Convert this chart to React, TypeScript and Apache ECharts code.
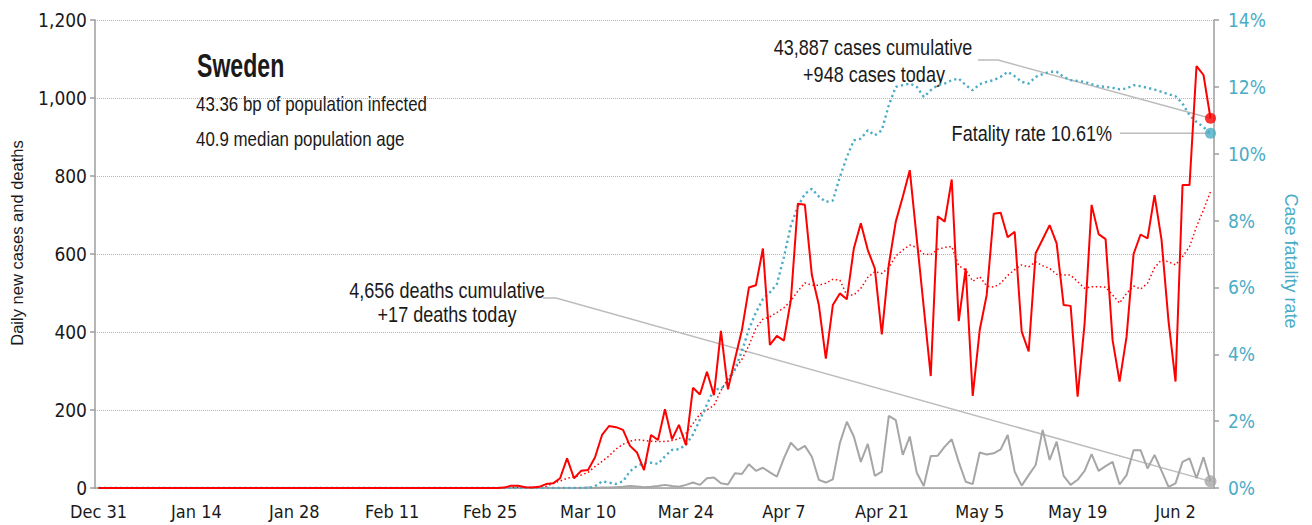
import React, { useEffect, useRef } from "react";
import * as echarts from "echarts";

const AXIS_FONT = "'DejaVu Sans Condensed', 'Liberation Sans', sans-serif";
const NAME_FONT = "'Liberation Sans', 'DejaVu Sans Condensed', sans-serif";
const TEXT_FONT = "'Liberation Sans', 'DejaVu Sans', sans-serif";
const RED = "#ff0000";
const BLUE = "#4aacc6";
const GREY = "#a6a6a6";
const INK = "#1a1a1a";
const CONNECT = "#bcbcbc";

const MONTHS = ["Jan", "Feb", "Mar", "Apr", "May", "Jun", "Jul", "Aug", "Sep", "Oct", "Nov", "Dec"];
const START_UTC = Date.UTC(2019, 11, 31);
const DAY_COUNT = 160;
const dates: string[] = [];
for (let i = 0; i < DAY_COUNT; i++) {
  const d = new Date(START_UTC + i * 86400000);
  dates.push(`${MONTHS[d.getUTCMonth()]} ${d.getUTCDate()}`);
}

const tickLabels = ["Dec 31", "Jan 14", "Jan 28", "Feb 11", "Feb 25", "Mar 10", "Mar 24", "Apr 7", "Apr 21", "May 5", "May 19", "Jun 2"];

// one row = 10 days, starting Dec 31
const dailyCases = [
  0, 0, 0, 0, 0, 0, 0, 0, 0, 0,
  0, 0, 0, 0, 0, 0, 0, 0, 0, 0,
  0, 0, 0, 0, 0, 0, 0, 0, 0, 0,
  0, 0, 0, 0, 0, 0, 0, 0, 0, 0,
  0, 0, 0, 0, 0, 0, 0, 0, 0, 0,
  0, 0, 0, 0, 0, 0, 0, 0, 1, 6,
  6, 2, 1, 3, 10, 12, 25, 76, 25, 44,
  46, 79, 136, 159, 156, 149, 108, 91, 46, 136,
  123, 202, 125, 162, 110, 257, 240, 298, 238, 403,
  253, 330, 405, 514, 520, 614, 367, 390, 378, 482,
  729, 726, 546, 469, 332, 469, 499, 484, 614, 679,
  610, 563, 394, 572, 683, 747, 815, 639, 463, 287,
  697, 683, 791, 428, 563, 236, 405, 495, 703, 706,
  643, 657, 401, 350, 602, 638, 674, 627, 469, 467,
  234, 422, 726, 651, 638, 379, 273, 388, 600, 650,
  640, 751, 636, 427, 273, 777, 777, 1082, 1059, 948,
];

const casesAvg = [
  0, 0, 0, 0, 0, 0, 0, 0, 0, 0,
  0, 0, 0, 0, 0, 0, 0, 0, 0, 0,
  0, 0, 0, 0, 0, 0, 0, 0, 0, 0,
  0, 0, 0, 0, 0, 0, 0, 0, 0, 0,
  0, 0, 0, 0, 0, 0, 0, 0, 0, 0,
  0, 0, 0, 0, 0, 0, 0, 0, 1, 1,
  2, 2, 2, 2, 4, 12, 18, 25, 28, 33,
  40, 55, 68, 82, 100, 112, 120, 124, 122, 120,
  119, 119, 122, 126, 140, 165, 190, 200, 212, 250,
  280, 305, 330, 365, 410, 433, 439, 450, 462, 480,
  505, 526, 520, 520, 525, 535, 533, 495, 495, 512,
  540, 555, 550, 565, 595, 610, 623, 617, 600, 598,
  612, 617, 619, 570, 559, 530, 542, 518, 515, 525,
  545, 560, 572, 567, 580, 570, 563, 548, 546, 546,
  529, 512, 516, 516, 515, 495, 474, 499, 518, 510,
  525, 565, 585, 580, 572, 593, 619, 670, 713, 760,
];

const dailyDeaths = [
  0, 0, 0, 0, 0, 0, 0, 0, 0, 0,
  0, 0, 0, 0, 0, 0, 0, 0, 0, 0,
  0, 0, 0, 0, 0, 0, 0, 0, 0, 0,
  0, 0, 0, 0, 0, 0, 0, 0, 0, 0,
  0, 0, 0, 0, 0, 0, 0, 0, 0, 0,
  0, 0, 0, 0, 0, 0, 0, 0, 0, 0,
  0, 0, 0, 0, 0, 0, 0, 0, 0, 0,
  1, 0, 1, 1, 2, 3, 5, 4, 2, 3,
  5, 8, 5, 3, 8, 14, 8, 25, 27, 12,
  9, 38, 36, 61, 44, 52, 40, 29, 76, 116,
  97, 108, 80, 21, 14, 22, 115, 170, 132, 67,
  113, 31, 42, 185, 174, 85, 132, 39, 5, 82,
  83, 106, 125, 67, 16, 10, 91, 86, 89, 99,
  136, 42, 6, 33, 59, 149, 72, 119, 31, 8,
  21, 44, 87, 44, 56, 67, 9, 33, 97, 97,
  50, 85, 44, 3, 12, 67, 76, 25, 79, 17,
];

// case fatality rate, percent
const fatalityRate = [
  0, 0, 0, 0, 0, 0, 0, 0, 0, 0,
  0, 0, 0, 0, 0, 0, 0, 0, 0, 0,
  0, 0, 0, 0, 0, 0, 0, 0, 0, 0,
  0, 0, 0, 0, 0, 0, 0, 0, 0, 0,
  0, 0, 0, 0, 0, 0, 0, 0, 0, 0,
  0, 0, 0, 0, 0, 0, 0, 0, 0, 0,
  0, 0, 0, 0, 0, 0, 0, 0, 0, 0,
  0, 0.05, 0.2, 0.16, 0.12, 0.2, 0.5, 0.66, 0.74, 0.76,
  0.72, 0.95, 1.14, 1.16, 1.3, 1.6, 2.05, 2.5, 2.95, 2.97,
  3.15, 3.55, 4.1, 4.75, 5.25, 5.65, 5.85, 6.1, 6.9, 7.85,
  8.42, 8.8, 8.95, 8.72, 8.56, 8.6, 9.3, 9.9, 10.4, 10.45,
  10.7, 10.55, 10.7, 11.45, 12.0, 12.05, 12.1, 12.0, 11.7, 11.9,
  12.05, 12.1, 12.2, 12.25, 12.05, 11.9, 12.08, 12.15, 12.2, 12.3,
  12.45, 12.32, 12.15, 12.1, 12.3, 12.38, 12.45, 12.45, 12.3, 12.2,
  12.18, 12.15, 12.08, 12.02, 12.0, 11.97, 11.93, 11.95, 12.05, 12.02,
  11.97, 11.92, 11.85, 11.78, 11.72, 11.5, 11.15, 10.95, 10.8, 10.61,
];

const country = "Sweden";
const infectedBp = "43.36";
const medianAge = "40.9";
const totalCases = 43887;
const totalDeaths = 4656;

const fmt = (n: number) => n.toLocaleString("en-US");
const showTick = (_idx: number, value: string) => tickLabels.includes(value);

export default function App() {
  const ref = useRef<HTMLDivElement>(null);

  useEffect(() => {
    document.body.style.margin = "0";
    if (!ref.current) return;
    const chart = echarts.init(ref.current, null, { renderer: "svg" });
    const last = DAY_COUNT - 1;
    const lastDate = dates[last];
    const axisLineStyle = { color: "#9e9e9e", width: 1.5 };

    chart.setOption({
      animation: false,
      textStyle: { fontFamily: AXIS_FONT },
      grid: { left: 95, right: 98, top: 20, bottom: 37, containLabel: false },
      xAxis: {
        type: "category",
        data: dates,
        boundaryGap: true,
        axisLine: { lineStyle: axisLineStyle },
        axisTick: { interval: showTick, length: 6, lineStyle: axisLineStyle },
        axisLabel: { interval: showTick, fontSize: 18, color: INK, margin: 14, fontFamily: AXIS_FONT },
        splitLine: { show: false },
      },
      yAxis: [
        {
          type: "value",
          min: 0,
          max: 1200,
          interval: 200,
          name: "Daily new cases and deaths",
          nameLocation: "middle",
          nameGap: 70,
          nameTextStyle: { fontSize: 16.5, color: INK, fontFamily: NAME_FONT, padding: [0, 0, 0, 22] },
          axisLine: { show: true, lineStyle: axisLineStyle },
          axisTick: { show: true, length: 5, lineStyle: axisLineStyle },
          axisLabel: { formatter: (v: number) => fmt(v), fontSize: 19, color: INK, margin: 8, fontFamily: AXIS_FONT },
          splitLine: { show: true, lineStyle: { type: "dotted", color: "#b5b5b5", width: 1 } },
        },
        {
          type: "value",
          min: 0,
          max: 14,
          interval: 2,
          position: "right",
          name: "Case fatality rate",
          nameLocation: "middle",
          nameRotate: -90,
          nameGap: 68,
          nameTextStyle: { fontSize: 18, color: BLUE, fontFamily: NAME_FONT, padding: [0, 0, 0, 14] },
          axisLine: { show: true, lineStyle: axisLineStyle },
          axisTick: { show: true, length: 5, lineStyle: axisLineStyle },
          axisLabel: { formatter: "{value}%", fontSize: 19, color: BLUE, margin: 14, fontFamily: AXIS_FONT },
          splitLine: { show: false },
        },
      ],
      series: [
        {
          name: "Daily deaths",
          type: "line",
          data: dailyDeaths,
          showSymbol: false,
          lineStyle: { color: GREY, width: 2 },
          itemStyle: { color: GREY },
          z: 2,
        },
        {
          name: "Cases, 7-day average",
          type: "line",
          data: casesAvg,
          showSymbol: false,
          lineStyle: { color: RED, width: 1.5, type: [1.5, 2.6] },
          itemStyle: { color: RED },
          z: 3,
        },
        {
          name: "Case fatality rate",
          type: "line",
          yAxisIndex: 1,
          data: fatalityRate,
          showSymbol: false,
          lineStyle: { color: BLUE, width: 2.4, type: [2.2, 3.2] },
          itemStyle: { color: BLUE },
          z: 3,
        },
        {
          name: "Daily cases",
          type: "line",
          data: dailyCases,
          showSymbol: false,
          lineStyle: { color: RED, width: 2 },
          itemStyle: { color: RED },
          z: 4,
        },
        {
          type: "scatter",
          data: [[lastDate, dailyCases[last]]],
          symbolSize: 11,
          itemStyle: { color: RED },
          z: 6,
        },
        {
          type: "scatter",
          data: [[lastDate, dailyDeaths[last]]],
          symbolSize: 12,
          itemStyle: { color: GREY },
          z: 6,
        },
        {
          type: "scatter",
          yAxisIndex: 1,
          data: [[lastDate, fatalityRate[last]]],
          symbolSize: 11,
          itemStyle: { color: BLUE },
          z: 6,
        },
      ],
    });

    const pCase = chart.convertToPixel({ seriesIndex: 4 }, [lastDate, dailyCases[last]]) as number[];
    const pDeath = chart.convertToPixel({ seriesIndex: 5 }, [lastDate, dailyDeaths[last]]) as number[];
    const pRate = chart.convertToPixel({ seriesIndex: 6 }, [lastDate, fatalityRate[last]]) as number[];

    // narrow text: Liberation Sans squeezed horizontally
    const txt = (text: string, x: number, y: number, size: number, align: string, squeeze: number, weight = "normal") => ({
      type: "text",
      x,
      y,
      scaleX: squeeze,
      silent: true,
      style: {
        text,
        fontSize: size,
        fontFamily: TEXT_FONT,
        fontWeight: weight,
        fill: INK,
        textAlign: align,
        align,
        textVerticalAlign: "middle",
        verticalAlign: "middle",
      },
    });
    const connector = (points: number[][]) => ({
      type: "polyline",
      silent: true,
      shape: { points },
      style: { stroke: CONNECT, lineWidth: 1.5, fill: null },
      z: 1,
    });

    chart.setOption({
      graphic: [
        txt(country, 197, 65, 33, "left", 0.7, "bold"),
        txt(`${infectedBp} bp of population infected`, 196, 104, 20, "left", 0.845),
        txt(`${medianAge} median population age`, 196, 139, 20, "left", 0.845),
        txt(`${fmt(totalCases)} cases cumulative`, 873, 47, 22, "center", 0.82),
        txt(`+${fmt(dailyCases[last])} cases today`, 874, 74, 22, "center", 0.82),
        connector([[978, 60], [998, 60], pCase]),
        txt(`Fatality rate ${fatalityRate[last].toFixed(2)}%`, 1112, 133, 22, "right", 0.82),
        connector([[1120, pRate[1]], pRate]),
        txt(`${fmt(totalDeaths)} deaths cumulative`, 447, 290, 22, "center", 0.82),
        txt(`+${fmt(dailyDeaths[last])} deaths today`, 447, 314, 22, "center", 0.82),
        connector([[543, 298], [556, 298], pDeath]),
      ],
    });

    return () => chart.dispose();
  }, []);

  return <div ref={ref} style={{ width: 1312, height: 525 }} />;
}
